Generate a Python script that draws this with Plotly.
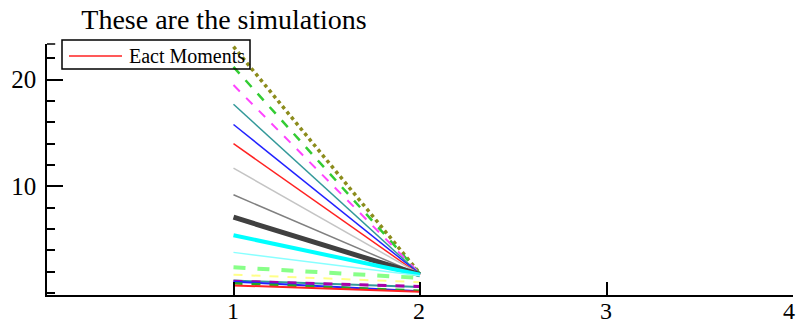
import plotly.graph_objects as go

# Simulation paths: each runs from t=1 to t=2
t_points = [1, 2]
sim_start = [23.1, 21.2, 19.5, 17.7, 15.8, 14.0, 11.7, 9.2, 7.1, 5.4, 3.8, 2.4, 1.7,
             1.15, 1.1, 1.05, 0.9, 0.7]
sim_end = [1.8, 1.8, 1.8, 1.75, 1.75, 1.7, 1.75, 1.7, 1.7, 1.7, 1.6, 1.4, 1.0,
           0.55, 0.6, 0.15, 0.2, 0.1]
sim_names = ["Eact Moments" if i == 5 else f"sim {i + 1}" for i in range(len(sim_start))]
legend_label = "Eact Moments"

x_ticks = [1, 2, 3, 4]
x_tick_text = ["1", "2", "3", "4"]
y_ticks = [10, 20]

# line styles per path
line_colors = ["#8c8c1c", "#33cc33", "#ff44ff", "#339999", "#2222ff", "#ff2222", "#c4c4c4",
               "#808080", "#404040", "#00ffff", "#88ffff", "#88ff88", "#ffff88",
               "#339999", "#aa00aa", "#2222ff", "#22aa22", "#ff2222"]
line_widths = [3.5, 2.5, 2, 1.5, 1.5, 1.5, 1.5, 1.5, 5, 4, 1.5, 4, 2,
               2, 3, 2, 2.5, 2]
line_dashes = ["dot", "dash", "dash", "solid", "solid", "solid", "solid", "solid", "solid",
               "solid", "solid", "dash", "dash", "solid", "dash", "solid", "dash", "solid"]

SERIF = "Liberation Serif"
W, H = 798, 325
L, R, T, B = 47, 5, 44, 30

fig = go.Figure()
for i in range(len(sim_start)):
    fig.add_trace(go.Scatter(
        x=t_points,
        y=[sim_start[i], sim_end[i]],
        mode="lines",
        name=sim_names[i],
        line=dict(color=line_colors[i], width=line_widths[i], dash=line_dashes[i]),
        showlegend=False,
    ))

fig.update_layout(
    width=W, height=H,
    margin=dict(l=L, r=R, t=T, b=B, autoexpand=False),
    paper_bgcolor="white", plot_bgcolor="white",
    font=dict(family=SERIF, color="black"),
    title=dict(text="These are the simulations", font=dict(family=SERIF, size=28, color="black"),
               x=(224 - L) / (W - L - R), xref="paper", xanchor="center",
               y=1 - 19 / H, yanchor="middle"),
    showlegend=False,
)

fig.update_xaxes(range=[0, 4], tickvals=x_ticks, ticks="inside", ticklen=13, tickwidth=1.5,
                 tickcolor="black", showline=True, linecolor="black", linewidth=1.5,
                 showgrid=False, zeroline=False, showticklabels=False, automargin=False)
fig.update_yaxes(range=[-0.2, 23.35], tickvals=y_ticks, ticks="inside", ticklen=16, tickwidth=1.5,
                 tickcolor="black", showline=True, linecolor="black", linewidth=1.5,
                 showgrid=False, zeroline=False, tickfont=dict(family=SERIF, size=25),
                 automargin=False, ticklabelstandoff=4,
                 minor=dict(dtick=2, tick0=0, ticks="inside", ticklen=8, tickwidth=1.5,
                            tickcolor="black", showgrid=False))

pw, ph = W - L - R, H - T - B
def px(x):
    return (x - L) / pw
def py(y):
    return (H - B - y) / ph

# horizontal tick labels, set just under the axis line
for v, s in zip(x_ticks, x_tick_text):
    fig.add_annotation(text=s, x=v, xref="x", y=py(310.5), yref="paper",
                       xanchor="right" if v == x_ticks[-1] else "center", yanchor="middle",
                       xshift=4 if v == x_ticks[-1] else -1,
                       showarrow=False, font=dict(family=SERIF, size=24, color="black"))

# small cap at the top end of the vertical axis
fig.add_shape(type="line", xref="paper", yref="paper", x0=0, x1=0.011, y0=1, y1=1,
              line=dict(color="black", width=1.5))

# legend box for the red path
fig.add_shape(type="rect", xref="paper", yref="paper",
              x0=px(62), x1=px(250), y0=py(69), y1=py(40),
              line=dict(color="black", width=1.5), fillcolor="rgba(0,0,0,0)")
fig.add_shape(type="line", xref="paper", yref="paper",
              x0=px(69), x1=px(122), y0=py(56), y1=py(56),
              line=dict(color=line_colors[5], width=1.5))
fig.add_annotation(text=legend_label, xref="paper", yref="paper",
                   x=px(127), y=py(56), xanchor="left", yanchor="middle",
                   showarrow=False, font=dict(family=SERIF, size=20, color="black"))

fig.write_html("out.html")
